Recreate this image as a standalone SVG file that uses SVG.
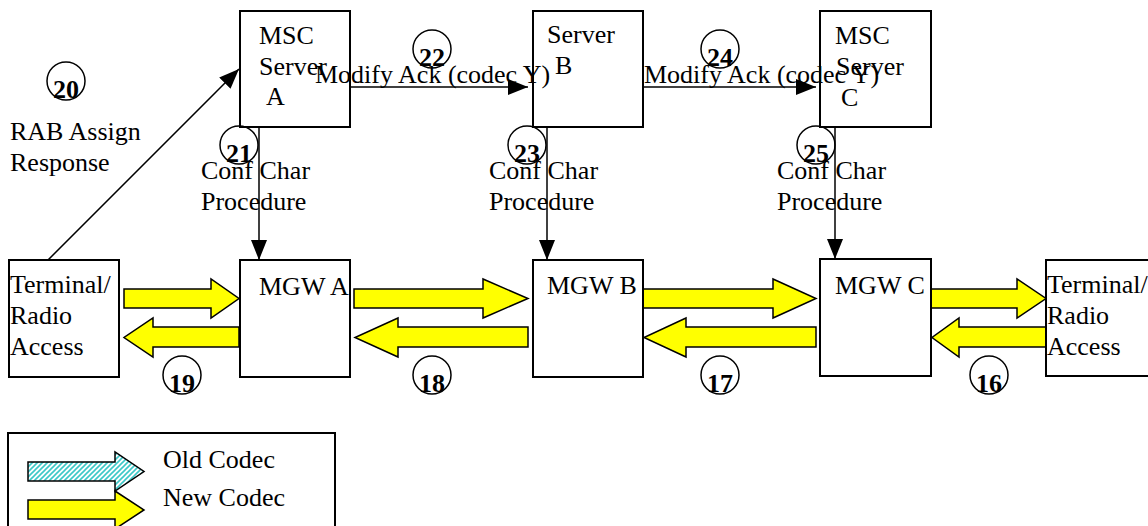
<svg xmlns="http://www.w3.org/2000/svg" width="1148" height="526" viewBox="0 0 1148 526">
<style>
text{font-family:"Liberation Serif","Times New Roman",serif;font-size:26px;fill:#000}
.num{font-weight:bold;font-size:26px;text-anchor:middle}
.box{fill:#fff;stroke:#000;stroke-width:2}
.circ{fill:none;stroke:#000;stroke-width:1.5}
.line{fill:none;stroke:#000;stroke-width:1.5}
.ya{fill:#ffff00;stroke:#000;stroke-width:1.5;stroke-linejoin:miter}
.ha{fill:url(#hatch);stroke:#000;stroke-width:1.5}
</style>
<defs>
<marker id="ah" markerUnits="userSpaceOnUse" markerWidth="22" markerHeight="18" refX="20" refY="8" orient="auto">
<path d="M0,0 L20,8 L0,16 Z" fill="#000"/>
</marker>
<pattern id="hatch" patternUnits="userSpaceOnUse" width="5" height="5">
<rect width="5" height="5" fill="#ffffff"/>
<path d="M-1,1 L1,-1 M0,5 L5,0 M4,6 L6,4" stroke="#3cc8c8" stroke-width="1.6"/>
</pattern>
</defs>

<g id="connectors">
<line class="line" x1="48" y1="260" x2="239" y2="69" marker-end="url(#ah)"/>
<line class="line" x1="350" y1="87" x2="528" y2="87" marker-end="url(#ah)"/>
<line class="line" x1="643" y1="87" x2="816" y2="87" marker-end="url(#ah)"/>
<line class="line" x1="259" y1="126" x2="259" y2="260" marker-end="url(#ah)"/>
<line class="line" x1="547" y1="126" x2="547" y2="260" marker-end="url(#ah)"/>
<line class="line" x1="835" y1="126" x2="835" y2="259" marker-end="url(#ah)"/>
<polygon class="ya" points="124,289 211,289 211,279 239,298.5 211,318 211,308 124,308"/>
<polygon class="ya" points="354,289 483,289 483,279 528,298.5 483,318 483,308 354,308"/>
<polygon class="ya" points="643,289 773,289 773,279 816,298.5 773,318 773,308 643,308"/>
<polygon class="ya" points="931,289 1017,289 1017,279 1046,298.5 1017,318 1017,308 931,308"/>
<polygon class="ya" points="239,327 153,327 153,318 124,337.5 153,357 153,347 239,347"/>
<polygon class="ya" points="528,327 398,327 398,318 355,337.5 398,357 398,347 528,347"/>
<polygon class="ya" points="816,327 686,327 686,318 644,337.5 686,357 686,347 816,347"/>
<polygon class="ya" points="1046,327 959,327 959,318 932,337.5 959,357 959,347 1046,347"/>
</g>

<g id="msc-a">
<rect class="box" x="240" y="11" width="110" height="116"/>
<text x="259" y="44">MSC</text>
<text x="259" y="74.5">Server</text>
<text x="266" y="105">A</text>
</g>
<g id="server-b">
<rect class="box" x="533" y="11" width="110" height="116"/>
<text x="547" y="43">Server</text>
<text x="555" y="74">B</text>
</g>
<g id="msc-c">
<rect class="box" x="820" y="11" width="111" height="116"/>
<text x="835" y="44">MSC</text>
<text x="836" y="75">Server</text>
<text x="841" y="106">C</text>
</g>
<g id="term-left">
<rect class="box" x="9" y="260" width="110" height="117"/>
<text x="10" y="293">Terminal/</text>
<text x="10" y="324">Radio</text>
<text x="10" y="355">Access</text>
</g>
<g id="mgw-a">
<rect class="box" x="240" y="260" width="110" height="117"/>
<text x="259" y="295">MGW A</text>
</g>
<g id="mgw-b">
<rect class="box" x="533" y="260" width="110" height="117"/>
<text x="547" y="294">MGW B</text>
</g>
<g id="mgw-c">
<rect class="box" x="820" y="259" width="111" height="117"/>
<text x="835" y="294">MGW C</text>
</g>
<g id="term-right">
<rect class="box" x="1046" y="260" width="120" height="116"/>
<text x="1047" y="293">Terminal/</text>
<text x="1047" y="324">Radio</text>
<text x="1047" y="355">Access</text>
</g>

<g id="labels">
<text x="10" y="140">RAB Assign</text>
<text x="10" y="171">Response</text>
<text x="315" y="83">Modify Ack (codec Y)</text>
<text x="644" y="83">Modify Ack (codec Y)</text>
<text x="201" y="179">Conf Char</text>
<text x="201" y="209.5">Procedure</text>
<text x="489" y="179">Conf Char</text>
<text x="489" y="209.5">Procedure</text>
<text x="777" y="179">Conf Char</text>
<text x="777" y="209.5">Procedure</text>
</g>

<g id="step-numbers">
<circle class="circ" cx="66" cy="81" r="19"/><text class="num" x="66" y="98">20</text>
<circle class="circ" cx="239" cy="145" r="19"/><text class="num" x="239" y="162">21</text>
<circle class="circ" cx="432" cy="49" r="19"/><text class="num" x="432" y="66">22</text>
<circle class="circ" cx="527" cy="145" r="19"/><text class="num" x="527" y="162">23</text>
<circle class="circ" cx="720" cy="49" r="19"/><text class="num" x="720" y="66">24</text>
<circle class="circ" cx="816" cy="145" r="19"/><text class="num" x="816" y="162">25</text>
<circle class="circ" cx="182" cy="375" r="19"/><text class="num" x="182" y="392">19</text>
<circle class="circ" cx="432" cy="375" r="19"/><text class="num" x="432" y="392">18</text>
<circle class="circ" cx="720" cy="375" r="19"/><text class="num" x="720" y="392">17</text>
<circle class="circ" cx="989" cy="375" r="19"/><text class="num" x="989" y="392">16</text>
</g>

<g id="legend">
<rect class="box" x="8" y="433" width="327" height="110"/>
<polygon class="ha" points="28,462 115,462 115,452 144,471.5 115,491 115,481 28,481"/>
<polygon class="ya" points="28,500 115,500 115,491 144,510 115,529 115,519 28,519"/>
<text x="163" y="468">Old Codec</text>
<text x="163" y="506">New Codec</text>
</g>
</svg>
